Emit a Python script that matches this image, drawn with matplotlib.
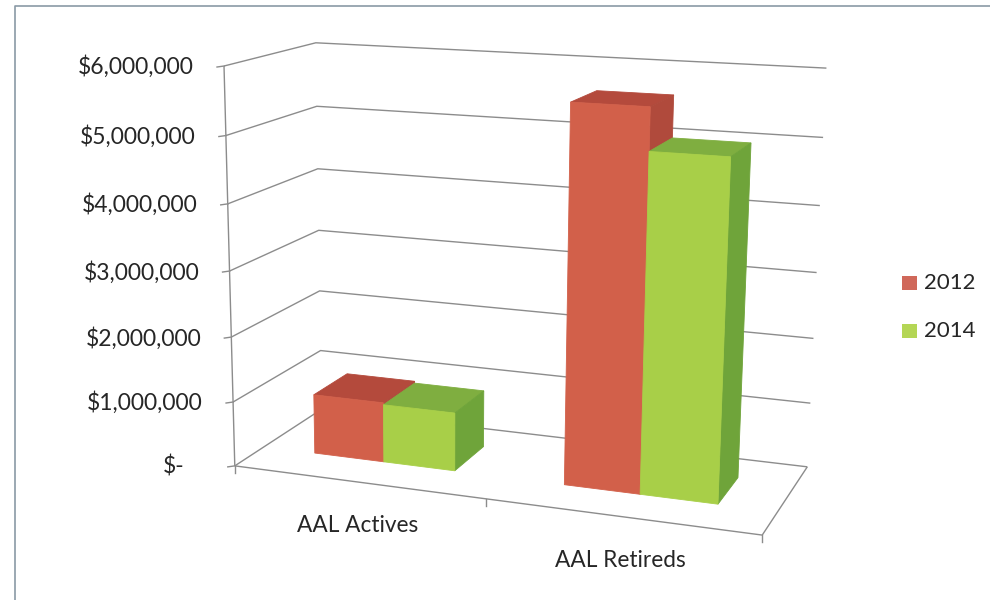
import numpy as np
import matplotlib
matplotlib.use('Agg')
import matplotlib.pyplot as plt
from matplotlib.patches import Polygon, Rectangle

categories = ['AAL Actives', 'AAL Retireds']
series = ['2012', '2014']
values_2012 = [930000, 5620000]
values_2014 = [900000, 5000000]
axis_ticks = [0, 1000000, 2000000, 3000000, 4000000, 5000000, 6000000]
axis_labels = ['$-', '$1,000,000', '$2,000,000', '$3,000,000', '$4,000,000', '$5,000,000', '$6,000,000']

ymax = 6000000.0

# face colours: front, top, side
red = ['#d2604a', '#b44a3c', '#b04a3c']
green = ['#a8cf48', '#7fae40', '#6fa43a']
grid_col = '#8c8c8c'
text_col = '#262626'

# where the corners of the box sit in the picture (u along, v depth, z height)
corners = [
    (0, 0, 0, 236, 465), (0, 0, 1, 222, 67),
    (0, 1, 0, 320, 410), (0, 1, 1, 318, 42),
    (1, 1, 0, 807, 467), (1, 1, 1, 826, 68),
    (1, 0, 0, 763, 535),
]

A = []
b = []
for u, v, z, px, py in corners:
    A.append([u, v, z, 1, 0, 0, 0, 0, -px*u, -px*v, -px*z])
    b.append(px)
    A.append([0, 0, 0, 0, u, v, z, 1, -py*u, -py*v, -py*z])
    b.append(py)
P = np.linalg.lstsq(np.array(A, dtype=float), np.array(b, dtype=float), rcond=None)[0]


def project(u, v, val):
    z = val/ymax
    w = P[8]*u + P[9]*v + P[10]*z + 1
    return ((P[0]*u + P[1]*v + P[2]*z + P[3])/w,
            (P[4]*u + P[5]*v + P[6]*z + P[7])/w)


def line(ax, pts, lw=1.0, col=grid_col):
    xs = [project(*p)[0] for p in pts]
    ys = [project(*p)[1] for p in pts]
    ax.plot(xs, ys, color=col, lw=lw, solid_capstyle='butt', zorder=2)


def bar(ax, u0, u1, v0, v1, val, cols, zorder):
    front = [(u0, v0, 0), (u1, v0, 0), (u1, v0, val), (u0, v0, val)]
    top = [(u0, v0, val), (u1, v0, val), (u1, v1, val), (u0, v1, val)]
    side = [(u1, v0, 0), (u1, v1, 0), (u1, v1, val), (u1, v0, val)]
    for face, c in [(top, cols[1]), (side, cols[2]), (front, cols[0])]:
        ax.add_patch(Polygon([project(*p) for p in face], closed=True, fc=c, ec=c, lw=0.6, zorder=zorder))


plt.rcParams['font.family'] = ['Lato', 'DejaVu Sans']

fig = plt.figure(figsize=(9.9, 6), dpi=100)
ax = fig.add_axes([0, 0, 1, 1])
ax.set_xlim(0, 990)
ax.set_ylim(600, 0)
ax.axis('off')

# scan border
ax.plot([15, 15, 990], [600, 6, 6], color='#8a9aa6', lw=1.2, zorder=1)

# walls
for t in axis_ticks:
    line(ax, [(0, 0, t), (0, 1, t), (1, 1, t)])
line(ax, [(0, 0, 0), (1, 0, 0), (1, 1, 0)])
line(ax, [(0, 0, 0), (0, 0, ymax)])

# tick marks
for t in axis_ticks:
    x, y = project(0, 0, t)
    ax.plot([x-7, x], [y+1, y], color=grid_col, lw=1.0, zorder=2)
for u in [0, 0.5, 1]:
    x, y = project(u, 0, 0)
    ax.plot([x, x], [y, y+7], color=grid_col, lw=1.0, zorder=2)

# bars
centres = [0.25, 0.75]
bw = 0.143
v0, v1 = 0.32, 0.72
for i in range(len(categories)):
    c = centres[i]
    bar(ax, c-bw, c, v0, v1, values_2012[i], red, 3+i*2)
    bar(ax, c, c+bw, v0, v1, values_2014[i], green, 4+i*2)

# axis labels
for t, lab in zip(axis_ticks, axis_labels):
    x, y = project(0, 0, t)
    off = 50 if t == 0 else 30
    ax.text(x-off, y+1, lab, ha='right', va='center', fontsize=16.5, color=text_col)

# category labels
cat_off = [44, 44]
for i in range(len(categories)):
    x, y = project(centres[i], 0, 0)
    ax.text(x, y+cat_off[i], categories[i], ha='center', va='center', fontsize=16.3, color=text_col)

# legend
leg_y = [283, 331]
leg_col = ['#d0685a', '#b4d655']
for i in range(len(series)):
    ax.add_patch(Rectangle((902, leg_y[i]-7), 15, 14, fc=leg_col[i], ec='none', zorder=5))
    ax.text(924, leg_y[i], series[i], ha='left', va='center', fontsize=16, color=text_col)

fig.savefig('out.png', dpi=100)
